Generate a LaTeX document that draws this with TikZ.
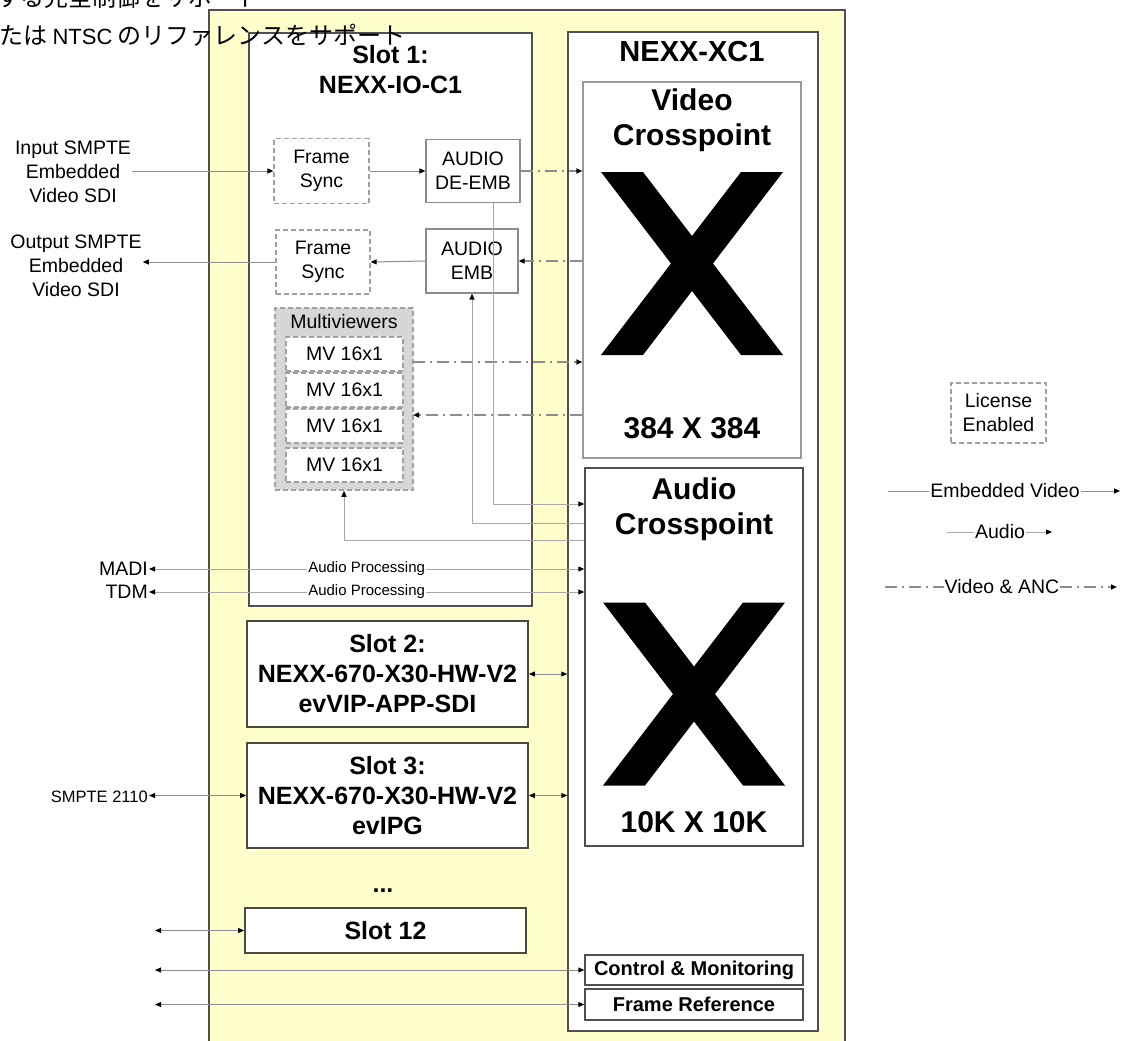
\documentclass[tikz,border=0pt]{standalone}
\usepackage{fontspec}
\setmainfont{Liberation Sans}
\newfontfamily\jpfont{Noto Sans CJK JP}
\usetikzlibrary{arrows.meta}
\definecolor{chassisyellow}{HTML}{FFFFCC}
\definecolor{edgedark}{HTML}{505050}
\definecolor{edgeslot}{HTML}{4A4A3E}
\definecolor{edgelight}{HTML}{9A9A9A}
\definecolor{vline}{HTML}{8C8C8C}
\definecolor{aline}{HTML}{A8A8A8}
\definecolor{mvfill}{HTML}{D6D6D6}
\definecolor{dashgray}{HTML}{A0A0A0}
\begin{document}
\begin{tikzpicture}[x=1pt,y=-1pt,
  >={Triangle[length=6pt,width=5pt,color=black]},
  chassis/.style={draw=edgedark, line width=2pt, fill=chassisyellow, inner sep=0pt},
  slotbox/.style={draw=edgedark, line width=1.5pt, fill=white, inner sep=0pt},
  cardbox/.style={draw=edgeslot, line width=1.8pt, fill=white, inner sep=0pt},
  xpbox/.style={draw=edgelight, line width=1.3pt, fill=white, inner sep=0pt},
  xpboxdark/.style={draw=edgedark, line width=1.5pt, fill=white, inner sep=0pt},
  solidbox/.style={draw=vline, line width=1.2pt, fill=white, inner sep=0pt},
  dashbox/.style={draw=dashgray, line width=1.2pt, dash pattern=on 5pt off 3pt, fill=white, inner sep=0pt},
  mvgroup/.style={draw=dashgray, line width=1.5pt, dash pattern=on 5pt off 3pt, fill=mvfill, inner sep=0pt},
  lbl/.style={font=\fontsize{19.5}{24}\selectfont, align=center, inner sep=1pt},
  smalllbl/.style={font=\fontsize{16.5}{20}\selectfont, align=center, inner sep=1pt},
  ap/.style={font=\fontsize{15}{18}\selectfont, fill=white, inner sep=1pt},
  ttl/.style={font=\bfseries\fontsize{25}{30}\selectfont, align=center},
  big/.style={font=\bfseries\fontsize{30}{35}\selectfont, align=center, inner sep=0pt},
  boldlbl/.style={font=\bfseries\fontsize{20}{24}\selectfont},
  jptext/.style={anchor=west, inner sep=0pt, font=\jpfont\fontsize{24}{24}\selectfont},
  vid/.style={draw=vline, line width=1pt},
  aud/.style={draw=aline, line width=1pt},
  anc/.style={draw=vline, line width=1.6pt, dash pattern=on 12pt off 5pt on 2pt off 5pt},
  bigx/.pic={\fill[black] (-91,-91.5) -- (-49,-91.5) -- (0,-27.5) -- (49,-91.5) -- (91,-91.5)
     -- (21,0) -- (91,91.5) -- (49,91.5) -- (0,27.5) -- (-49,91.5) -- (-91,91.5) -- (-21,0) -- cycle;}
]
\useasboundingbox (0,0) rectangle (1124,1041);
\clip (0,0) rectangle (1124,1041);
\fill[white] (0,0) rectangle (1124,1041);

% chassis and main cards
\node[chassis, minimum width=636pt, minimum height=1060pt] (chassis) at (527,540) {};
\node[slotbox, minimum width=283pt, minimum height=573pt] (slot1) at (390.5,319.5) {};
\node[ttl] (slot1t) at (390.5,70) {Slot 1:\\NEXX-IO-C1};
\node[slotbox, minimum width=250pt, minimum height=999pt] (xc1) at (693,531.5) {};
\node[ttl, font=\bfseries\fontsize{29}{34}\selectfont] (xc1t) at (692,52) {NEXX-XC1};

% crosspoints
\node[xpbox, minimum width=218pt, minimum height=376pt] (vxp) at (692,270) {};
\node[big] (vxpt) at (692,120) {Video\\Crosspoint};
\pic at (692,263.5) {bigx};
\node[big] (vxps) at (692,428) {384 X 384};
\node[xpboxdark, minimum width=218pt, minimum height=378pt] (axp) at (694,657) {};
\node[big] (axpt) at (694,509) {Audio\\Crosspoint};
\pic at (694,694) {bigx};
\node[big] (axps) at (694,822) {10K X 10K};

% control boxes
\node[xpboxdark, boldlbl, minimum width=218pt, minimum height=30pt] (cm) at (694,970) {Control \& Monitoring};
\node[xpboxdark, boldlbl, minimum width=218pt, minimum height=31pt] (fr) at (694,1004.5) {Frame Reference};

% slot 1 internals
\node[dashbox, lbl, minimum width=95pt, minimum height=65pt] (fs1) at (321.5,171) {Frame\\Sync};
\node[solidbox, lbl, minimum width=94pt, minimum height=63pt] (dem) at (473,171) {AUDIO\\DE-EMB};
\node[dashbox, lbl, minimum width=94pt, minimum height=64pt] (fs2) at (323,262) {Frame\\Sync};
\node[solidbox, lbl, minimum width=92pt, minimum height=64pt] (emb) at (472,261) {AUDIO\\EMB};
\node[mvgroup, minimum width=138pt, minimum height=182pt] (mvgrp) at (344,399) {};
\node[lbl] (mvt) at (344,322) {Multiviewers};
\node[dashbox, lbl, minimum width=117pt, minimum height=34pt] (mv1) at (344.5,354) {MV 16x1};
\node[dashbox, lbl, minimum width=117pt, minimum height=34pt] (mv2) at (344.5,390) {MV 16x1};
\node[dashbox, lbl, minimum width=117pt, minimum height=34pt] (mv3) at (344.5,426) {MV 16x1};
\node[dashbox, lbl, minimum width=117pt, minimum height=34pt] (mv4) at (344.5,465) {MV 16x1};

% other slots
\node[cardbox, ttl, minimum width=281pt, minimum height=106pt] (slot2) at (387.5,674) {Slot 2:\\NEXX-670-X30-HW-V2\\evVIP-APP-SDI};
\node[cardbox, ttl, minimum width=281pt, minimum height=105pt] (slot3) at (387.5,795.5) {Slot 3:\\NEXX-670-X30-HW-V2\\evIPG};
\node[ttl] (dots) at (383,891) {...};
\node[cardbox, ttl, minimum width=281pt, minimum height=45pt] (slot12) at (385.5,930.5) {Slot 12};

% external labels
\node[lbl] (inlbl) at (73,172) {Input SMPTE\\Embedded\\Video SDI};
\node[lbl] (outlbl) at (76,266) {Output SMPTE\\Embedded\\Video SDI};
\node[lbl, anchor=east] (madi) at (149,569) {MADI};
\node[lbl, anchor=east] (tdm) at (149,592) {TDM};
\node[smalllbl, anchor=east] (smpte) at (149,797) {SMPTE 2110};
\coordinate (s12L) at (155,930.5);
\coordinate (cmL) at (155,970);
\coordinate (frL) at (155,1004.5);

% video paths
\draw[vid,->] (inlbl.east |- fs1.west) -- (fs1.west);
\draw[vid,->] (fs1.east) -- (dem.west);
\draw[anc,->] (dem.east) -- (vxp.west |- dem.east);
\draw[anc,->] (vxp.west |- emb.east) -- (emb.east);
\draw[vid,->] (emb.west) -- (fs2.east);
\draw[vid,->] (fs2.west) -- (outlbl.east |- fs2.west);
\coordinate (mvout) at (413,362);
\coordinate (mvin) at (413,415);
\draw[anc,->] (mvout) -- (vxp.west |- mvout);
\draw[anc,->] (vxp.west |- mvin) -- (mvin);

% audio paths
\coordinate (deA) at (493,202.5);
\draw[aud,->] (deA) |- (axp.west |- 0,504);
\draw[aud,->] (axp.west |- 0,523) -| (emb.south);
\draw[aud,->] (axp.west |- 0,540) -| (mvgrp.south);
\draw[aud,<->] (madi.east) -- (axp.west |- madi.east) node[ap, midway] (ap1) {Audio Processing};
\draw[aud,<->] (tdm.east) -- (axp.west |- tdm.east) node[ap, midway] (ap2) {Audio Processing};

% slot links
\draw[vid,<->] (slot2.east) -- (xc1.west |- slot2.east);
\draw[vid,<->] (slot3.east) -- (xc1.west |- slot3.east);
\draw[vid,<->] (smpte.east |- slot3.west) -- (slot3.west);
\draw[vid,<->] (s12L) -- (slot12.west);
\draw[vid,<->] (cmL) -- (cm.west);
\draw[vid,<->] (frL) -- (fr.west);

% legend
\node[dashbox, lbl, minimum width=95pt, minimum height=60pt] (lic) at (998.5,413) {License\\Enabled};
\node[lbl, fill=white] (lgv) at (1005,491) {Embedded Video};
\coordinate (lgv1) at (888,491);
\coordinate (lgv2) at (1120,491);
\draw[vid] (lgv1) -- (lgv);
\draw[vid,->] (lgv) -- (lgv2);
\node[lbl, fill=white] (lga) at (1000,532) {Audio};
\coordinate (lga1) at (947,532);
\coordinate (lga2) at (1052,532);
\draw[aud] (lga1) -- (lga);
\draw[aud,->] (lga) -- (lga2);
\node[lbl, fill=white] (lgn) at (1002,587) {Video \& ANC};
\coordinate (lgn1) at (885,587);
\coordinate (lgn2) at (1117,587);
\draw[anc] (lgn1) -- (lgn);
\draw[anc,->] (lgn) -- (lgn2);

% japanese page text on top
\node[jptext] (jp1) at (-4,-3) {する完全制御をサポート};
\node[jptext] (jp2) at (-1,35) {たは {\rmfamily\fontsize{22}{24}\selectfont NTSC} のリファレンスをサポート};
\end{tikzpicture}
\end{document}
